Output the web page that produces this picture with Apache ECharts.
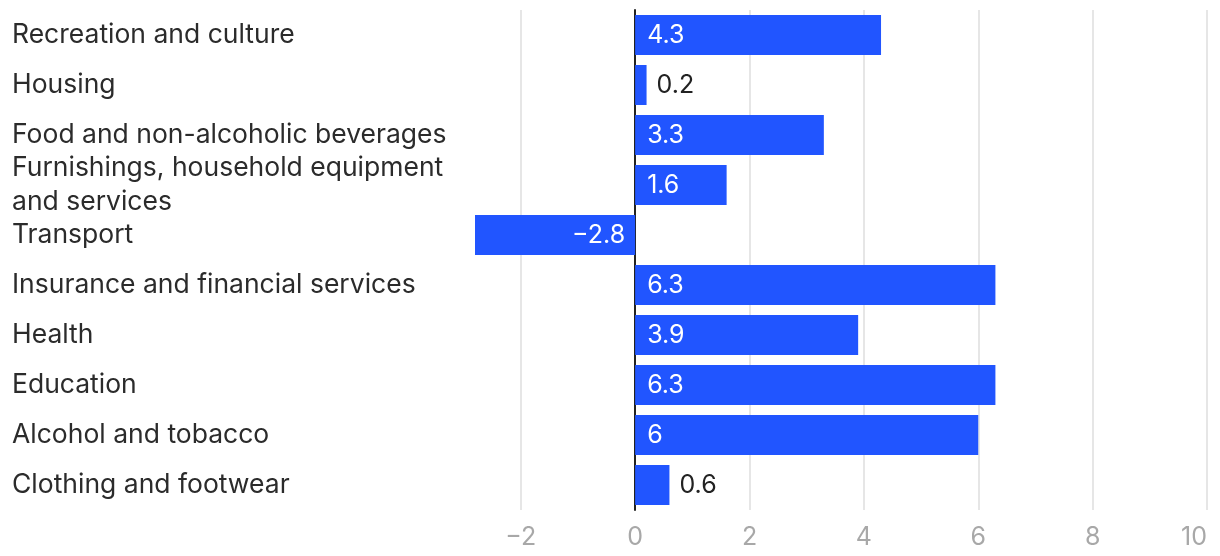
<!DOCTYPE html>
<html>
<head>
<meta charset="utf-8">
<script src="https://cdn.jsdelivr.net/npm/echarts@6/dist/echarts.min.js"></script>
<style>
html,body{margin:0;padding:0;background:#fff;}
#chart{width:1220px;height:556px;}
</style>
</head>
<body>
<div id="chart"></div>
<script>
const categories = [
  "Recreation and culture",
  "Housing",
  "Food and non-alcoholic beverages",
  "Furnishings, household equipment and services",
  "Transport",
  "Insurance and financial services",
  "Health",
  "Education",
  "Alcohol and tobacco",
  "Clothing and footwear"
];
const values = [4.3, 0.2, 3.3, 1.6, -2.8, 6.3, 3.9, 6.3, 6, 0.6];
const axisMin = -2.8;
const axisMax = 10;

const FONT = "Inter, 'Noto Sans', sans-serif";
const fmt = v => String(v).replace('-', '\u2212');

function wrap(text, maxChars) {
  const words = text.split(' ');
  const lines = [];
  let cur = '';
  words.forEach(w => {
    const t = cur ? cur + ' ' + w : w;
    if (t.length > maxChars && cur) { lines.push(cur); cur = w; }
    else cur = t;
  });
  if (cur) lines.push(cur);
  return lines.join('\n');
}

const barData = values.map(v => {
  let label;
  if (v < 0) {
    label = { position: 'insideRight', distance: 10, color: '#fff' };
  } else if (v < 1) {
    label = { position: 'right', distance: 10, color: '#222' };
  } else {
    label = { position: 'insideLeft', distance: 12, color: '#fff' };
  }
  return { value: v, label };
});

const chart = echarts.init(document.getElementById('chart'));
chart.setOption({
  animation: false,
  grid: { left: 475, right: 13, top: 10, bottom: 46, containLabel: false, outerBoundsMode: 'none' },
  xAxis: {
    type: 'value',
    min: axisMin,
    max: axisMax,
    splitNumber: 6,
    axisLine: { show: false },
    axisTick: { show: false },
    splitLine: { show: true, showMinLine: false, lineStyle: { color: '#e6e6e6', width: 2 } },
    axisLabel: {
      showMinLabel: false,
      alignMaxLabel: 'right',
      margin: 15,
      color: '#a8a8a8',
      fontSize: 25,
      fontFamily: FONT,
      formatter: v => fmt(v)
    }
  },
  yAxis: {
    type: 'category',
    data: categories,
    inverse: true,
    axisLine: { show: true, onZero: true, lineStyle: { color: '#222', width: 2 } },
    axisTick: { show: false },
    axisLabel: {
      align: 'left',
      margin: 463,
      color: '#2b2b2b',
      fontSize: 26.5,
      lineHeight: 34,
      fontFamily: FONT,
      formatter: v => wrap(v, 33)
    }
  },
  series: [{
    type: 'bar',
    data: barData,
    barCategoryGap: '20%',
    itemStyle: { color: '#2155ff' },
    label: {
      show: true,
      fontSize: 25,
      fontFamily: FONT,
      formatter: p => fmt(p.value)
    }
  }]
});
</script>
</body>
</html>
